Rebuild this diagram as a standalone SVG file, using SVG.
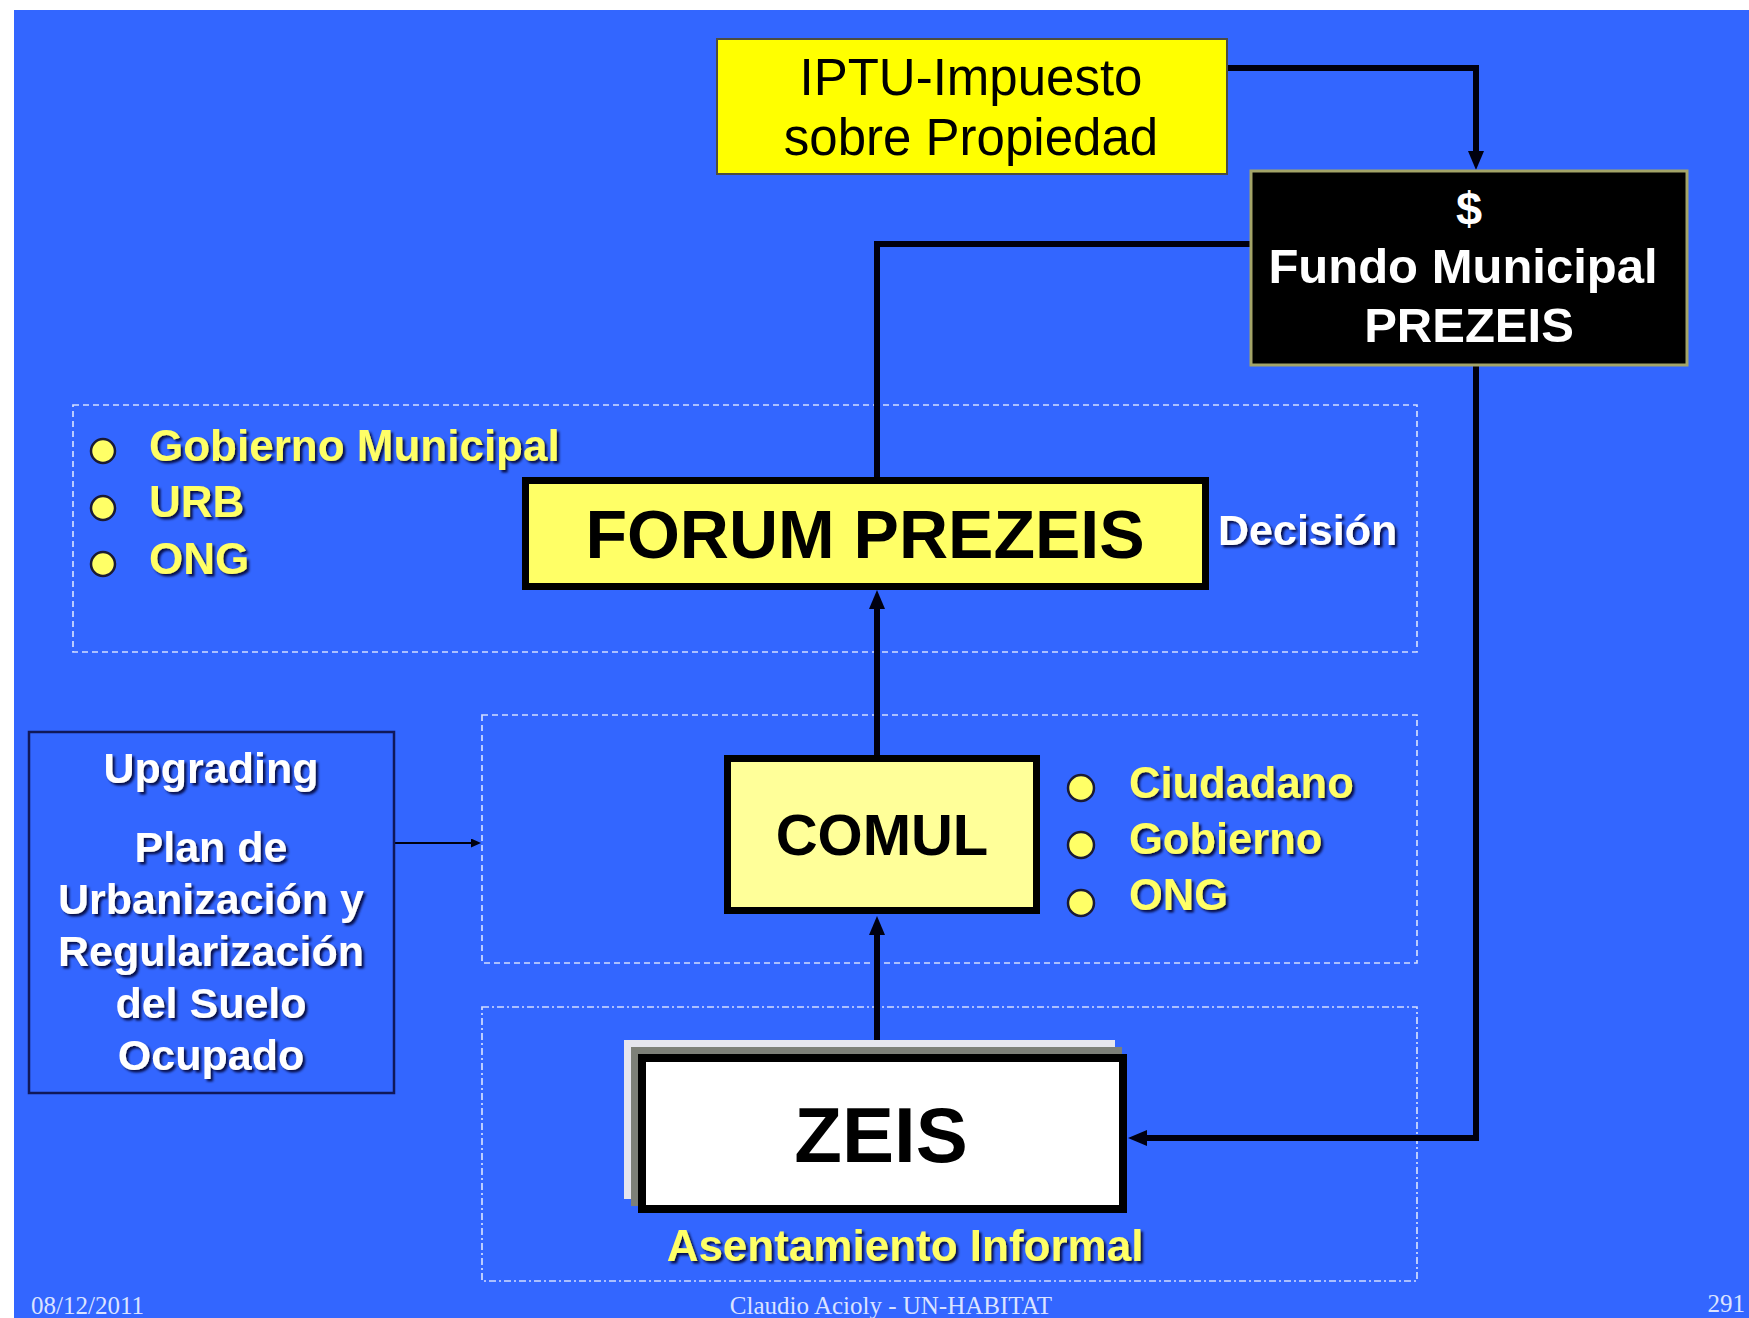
<svg xmlns="http://www.w3.org/2000/svg" width="1749" height="1318" viewBox="0 0 1749 1318">
  <style>
    .sans { font-family: "Liberation Sans", Arial, sans-serif; }
    .bold { font-weight: bold; }
    .yel { fill: #ffff66; }
    .wht { fill: #ffffff; }
    .blk { fill: #000000; }
    .mid { text-anchor: middle; }
    .shadow { filter: url(#drop); }
    .group { fill: none; stroke: #d2ddff; stroke-width: 1.7; stroke-dasharray: 6 4; }
    .group-dd { fill: none; stroke: #d2ddff; stroke-width: 1.7; stroke-dasharray: 7 3 2 3; }
    .wire { fill: none; stroke: #00000f; stroke-width: 6; stroke-linejoin: miter; }
    .wire-thin { fill: none; stroke: #00000f; stroke-width: 1.8; }
    .dot { fill: #ffff66; stroke: #1a1a33; stroke-width: 2.5; }
    .foot { font-family: "Liberation Serif", "Times New Roman", serif; font-size: 25px; fill: #dbe3ff; }
  </style>
  <defs>
    <filter id="drop" x="-10%" y="-30%" width="120%" height="160%">
      <feDropShadow dx="2.5" dy="2.5" stdDeviation="0.8" flood-color="#00002a" flood-opacity="0.85"/>
    </filter>
    <marker id="head" viewBox="0 0 19 16" refX="10" refY="8" markerWidth="19" markerHeight="16" markerUnits="userSpaceOnUse" orient="auto">
      <path d="M0,0 L19,8 L0,16 z" fill="#00000f"/>
    </marker>
    <marker id="head-thin" viewBox="0 0 10 9" refX="2" refY="4.5" markerWidth="10" markerHeight="9" markerUnits="userSpaceOnUse" orient="auto">
      <path d="M0,0 L10,4.5 L0,9 z" fill="#00000f"/>
    </marker>
  </defs>

  <!-- page -->
  <rect x="0" y="0" width="1749" height="1318" fill="#ffffff"/>
  <rect x="14" y="10" width="1735" height="1308" fill="#3366ff"/>

  <!-- dashed grouping frames -->
  <g id="frames">
    <rect class="group" x="73" y="405" width="1344" height="247"/>
    <rect class="group" x="482" y="715" width="935" height="248"/>
    <rect class="group-dd" x="482" y="1007" width="935" height="274"/>
  </g>

  <!-- connectors -->
  <g id="connectors">
    <path class="wire" d="M1228,68 H1476 V161" marker-end="url(#head)"/>
    <path class="wire" d="M1250,244 H877 V478"/>
    <path class="wire" d="M1476,366 V1138 H1137" marker-end="url(#head)"/>
    <path class="wire" d="M877,756 V599" marker-end="url(#head)"/>
    <path class="wire" d="M877,1047 V925" marker-end="url(#head)"/>
    <path class="wire-thin" d="M395,843 H473" marker-end="url(#head-thin)"/>
  </g>

  <!-- property tax source -->
  <g id="iptu">
    <rect x="717" y="39" width="510" height="135" fill="#ffff00" stroke="#4d4d40" stroke-width="2"/>
    <text class="sans blk mid" x="971" y="95" font-size="51">IPTU-Impuesto</text>
    <text class="sans blk mid" x="971" y="155" font-size="51">sobre Propiedad</text>
  </g>

  <!-- municipal fund -->
  <g id="fundo">
    <rect x="1251" y="171" width="436" height="194" fill="#000000" stroke="#a3a468" stroke-width="3"/>
    <text class="sans bold wht mid" x="1469" y="225" font-size="47">$</text>
    <text class="sans bold wht mid" x="1463" y="283" font-size="49">Fundo Municipal</text>
    <text class="sans bold wht mid" x="1469" y="342" font-size="49">PREZEIS</text>
  </g>

  <!-- decision forum -->
  <g id="forum">
    <rect x="525.5" y="480.5" width="680" height="106" fill="#ffff66" stroke="#000000" stroke-width="7"/>
    <text class="sans bold blk mid" x="865" y="558" font-size="68">FORUM PREZEIS</text>
    <text class="sans bold wht shadow" x="1218" y="545" font-size="43">Decisión</text>
  </g>

  <!-- forum members -->
  <g id="forum-members">
    <circle class="dot" cx="103" cy="451" r="12"/>
    <circle class="dot" cx="103" cy="508" r="12"/>
    <circle class="dot" cx="103" cy="564" r="12"/>
    <text class="sans bold yel shadow" x="149" y="461" font-size="44">Gobierno Municipal</text>
    <text class="sans bold yel shadow" x="149" y="517" font-size="44">URB</text>
    <text class="sans bold yel shadow" x="149" y="574" font-size="44">ONG</text>
  </g>

  <!-- upgrading plan -->
  <g id="upgrading">
    <rect x="29" y="732" width="365" height="361" fill="#3366ff" stroke="#10185a" stroke-width="2.5"/>
    <g class="sans bold wht mid shadow" font-size="43">
      <text x="211" y="783">Upgrading</text>
      <text x="211" y="862">Plan de</text>
      <text x="211" y="914">Urbanización y</text>
      <text x="211" y="966">Regularización</text>
      <text x="211" y="1018">del Suelo</text>
      <text x="211" y="1070">Ocupado</text>
    </g>
  </g>

  <!-- local committee -->
  <g id="comul">
    <rect x="727.5" y="758.5" width="309" height="152" fill="#ffff99" stroke="#000000" stroke-width="7"/>
    <text class="sans bold blk mid" x="882" y="855" font-size="58">COMUL</text>
  </g>

  <!-- committee members -->
  <g id="comul-members">
    <circle class="dot" cx="1081" cy="788" r="13"/>
    <circle class="dot" cx="1081" cy="845" r="13"/>
    <circle class="dot" cx="1081" cy="903" r="13"/>
    <text class="sans bold yel shadow" x="1129" y="798" font-size="43.5">Ciudadano</text>
    <text class="sans bold yel shadow" x="1129" y="854" font-size="43.5">Gobierno</text>
    <text class="sans bold yel shadow" x="1129" y="910" font-size="43.5">ONG</text>
  </g>

  <!-- special zones, stacked sheets -->
  <g id="zeis">
    <rect x="624" y="1040" width="491" height="159" fill="#e6e6ee"/>
    <rect x="631" y="1047" width="491" height="159" fill="#7d8078"/>
    <rect x="642" y="1058" width="481" height="151" fill="#ffffff" stroke="#000000" stroke-width="8"/>
    <text class="sans bold blk mid" x="881" y="1162" font-size="78">ZEIS</text>
    <text class="sans bold yel mid shadow" x="905" y="1261" font-size="44">Asentamiento Informal</text>
  </g>

  <!-- footer -->
  <g id="footer">
    <text class="foot" x="31" y="1314">08/12/2011</text>
    <text class="foot" x="891" y="1314" text-anchor="middle">Claudio Acioly - UN-HABITAT</text>
    <text class="foot" x="1745" y="1312" text-anchor="end">291</text>
  </g>
</svg>
